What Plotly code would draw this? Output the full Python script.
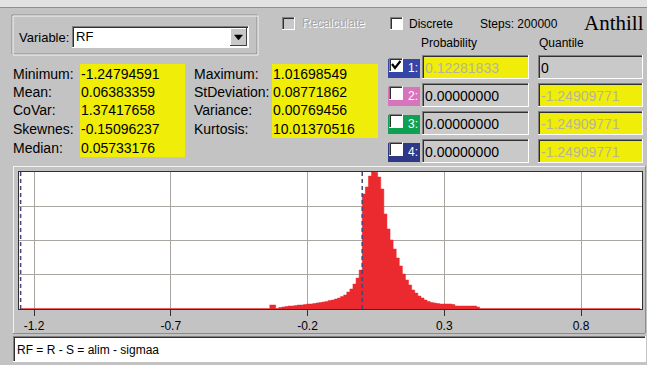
import plotly.graph_objects as go

W, H = 647, 365

# ---------------- data ----------------
variable_name = "RF"
stat_names_left = ["Minimum:", "Mean:", "CoVar:", "Skewnes:", "Median:"]
stat_values_left = ["-1.24794591", "0.06383359", "1.37417658", "-0.15096237", "0.05733176"]
stat_names_right = ["Maximum:", "StDeviation:", "Variance:", "Kurtosis:"]
stat_values_right = ["1.01698549", "0.08771862", "0.00769456", "10.01370516"]
data_min = -1.24794591
data_max = 1.01698549
steps = 200000

row_numbers = ["1:", "2:", "3:", "4:"]
row_checked = [True, False, False, False]
row_colors = ["#3646A8", "#D874BC", "#10A052", "#2E3886"]
prob_labels = ["0.12281833", "0.00000000", "0.00000000", "0.00000000"]
quantile_labels = ["0", "-1.24909771", "-1.24909771", "-1.24909771"]
quantile_values = [0.0, -1.24909771, -1.24909771, -1.24909771]

x_ticks = [-1.2, -0.7, -0.2, 0.3, 0.8]
x_tick_labels = ["-1.2", "-0.7", "-0.2", "0.3", "0.8"]

hist_start = -0.339
hist_width = 0.0113
hist_counts = [240, 240, 0, 90, 120, 150, 180, 180, 210, 240,
               240, 270, 300, 300, 330, 360, 390, 420, 450, 510,
               540, 600, 660, 750, 840, 1020, 1200, 1500, 1860, 2340,
               6900, 7320, 7980, 8220, 8200, 7920, 7200, 5700, 4800, 4140,
               3600, 3060, 2580, 2100, 1740, 1440, 1140, 960, 780, 660,
               540, 450, 390, 360, 330, 300, 300, 300, 300, 270,
               180, 180, 180, 180, 180, 180, 180, 120]
formula = "RF = R - S = alim - sigmaa"

# ---------------- styles ----------------
GRAY = "#C3C3C3"
YELLOW = "#F0EE08"
RED = "#EA2A2E"
FONT = "Liberation Sans"

shapes = []
annotations = []


def px(x):
    return x / W


def py(y):
    return 1 - y / H


def rect(x0, y0, x1, y1, fill, line=None, lw=1):
    shapes.append(dict(type="rect", xref="paper", yref="paper",
                       x0=px(x0), x1=px(x1), y0=py(y1), y1=py(y0),
                       fillcolor=fill,
                       line=dict(color=line if line else "rgba(0,0,0,0)", width=lw if line else 0)))


def hline(x0, x1, y, color, w=1):
    shapes.append(dict(type="line", xref="paper", yref="paper",
                       x0=px(x0), x1=px(x1), y0=py(y + 0.5), y1=py(y + 0.5),
                       line=dict(color=color, width=w)))


def vline(x, y0, y1, color, w=1):
    shapes.append(dict(type="line", xref="paper", yref="paper",
                       x0=px(x + 0.5), x1=px(x + 0.5), y0=py(y0), y1=py(y1),
                       line=dict(color=color, width=w)))


def sunken(x0, y0, x1, y1, fill):
    rect(x0, y0, x1, y1, fill)
    hline(x0, x1, y0, "#808080")
    vline(x0, y0, y1, "#808080")
    hline(x0 + 1, x1 - 1, y0 + 1, "#303030")
    vline(x0 + 1, y0 + 1, y1 - 1, "#303030")
    hline(x0, x1, y1 - 1, "#FFFFFF")
    vline(x1 - 1, y0, y1, "#FFFFFF")


def text(x, y, s, size=13, color="black", family=FONT, anchor="left"):
    annotations.append(dict(xref="paper", yref="paper", x=px(x), y=py(y),
                            text=s, showarrow=False, xanchor=anchor, yanchor="middle",
                            font=dict(family=family, size=size, color=color),
                            borderpad=0))


# top window strip
rect(0, 0, W, 7, "#E2E2E2")
hline(0, W, 7, "#8E8E8E")

# Variable group box (etched)
rect(12, 15, 257, 54, "rgba(0,0,0,0)", "#8A8A8A")
rect(13, 16, 258, 55, "rgba(0,0,0,0)", "#F4F4F4")
text(18, 37, "Variable:", 13)
sunken(72, 26, 249, 48, "#FFFFFF")
text(75, 36, variable_name, 13)
# dropdown button
rect(230, 28, 247, 46, "#C8C8C8")
hline(230, 247, 28, "#FFFFFF")
vline(230, 28, 46, "#FFFFFF")
hline(230, 247, 45, "#404040")
vline(246, 28, 46, "#404040")
shapes.append(dict(type="path", xref="paper", yref="paper",
                   path=f"M {px(234.5)},{py(35)} L {px(242.5)},{py(35)} L {px(238.5)},{py(40)} Z",
                   fillcolor="black", line=dict(color="black", width=0.5)))

# statistics
row_h = 18.5
rect(80, 64, 185, 157, YELLOW)
rect(272, 64, 378, 138, YELLOW)
for i, (n, v) in enumerate(zip(stat_names_left, stat_values_left)):
    yy = 73.5 + i * row_h
    text(12, yy, n, 14)
    text(80, yy, v, 14)
for i, (n, v) in enumerate(zip(stat_names_right, stat_values_right)):
    yy = 73.5 + i * row_h
    text(193, yy, n, 14)
    text(272, yy, v, 14)

# Recalculate (disabled)
sunken(282, 17, 295, 30, "#C8C8C8")
text(302, 24, "Recalculate", 12, "#FFFFFF")
text(301, 23, "Recalculate", 12, "#A6A6A6")
# Discrete
sunken(390, 17, 403, 30, "#FFFFFF")
text(408, 24, "Discrete", 12)
text(479, 24, f"Steps: {steps}", 12)
text(583, 23, "Anthill", 21, family="Liberation Serif")

text(420, 43, "Probability", 12)
text(538, 43, "Quantile", 12)

for i in range(4):
    top = 55 + i * 28
    rect(388, top + 4, 420, top + 23, row_colors[i])
    sunken(389, top + 3, 403, top + 17, "#FFFFFF")
    if row_checked[i]:
        shapes.append(dict(type="path", xref="paper", yref="paper",
                           path=(f"M {px(392)},{py(top + 9)} L {px(395)},{py(top + 13)} "
                                 f"L {px(400.5)},{py(top + 6)}"),
                           line=dict(color="black", width=2.2)))
    text(407, top + 13, row_numbers[i], 12, "#FFFFFF")
    pfill = YELLOW if i == 0 else "#C9C9C9"
    pcol = "#B6B49C" if i == 0 else "black"
    sunken(422, top, 529, top + 24, pfill)
    text(424, top + 13, prob_labels[i], 14, pcol)
    qfill = "#C9C9C9" if i == 0 else YELLOW
    qcol = "black" if i == 0 else "#B6B49C"
    sunken(538, top, 643, top + 24, qfill)
    text(540, top + 13, quantile_labels[i], 14, qcol)

# plot panel border (raised)
hline(13, 645, 166, "#F2F2F2")
vline(13, 166, 333, "#F2F2F2")
hline(13, 645, 333, "#8C8C8C")
vline(645, 166, 333, "#8C8C8C")

# formula box
sunken(13, 336, 646, 362, "#FFFFFF")
text(16, 349.5, formula, 12)

# quantile dashed lines on plot
for q in sorted(set(quantile_values)):
    shapes.append(dict(type="line", xref="x", yref="y domain", x0=q, x1=q, y0=0, y1=1,
                       line=dict(color="#44447E", width=1.5, dash="4px,3px"), layer="above"))

# histogram drawn as a filled step outline (bin edges -> counts)
edges = [hist_start + hist_width * i for i in range(len(hist_counts) + 1)]
step_y = hist_counts + [hist_counts[-1]]

fig = go.Figure()
fig.add_trace(go.Scatter(x=[data_min, data_max], y=[0, 0], mode="lines",
                         line=dict(color=RED, width=1.5), hoverinfo="skip"))
fig.add_trace(go.Scatter(x=edges, y=step_y, mode="lines", line_shape="hv",
                         line=dict(color=RED, width=0.5), fill="tozeroy",
                         fillcolor=RED, hoverinfo="skip"))

ymax = max(hist_counts)
grid = "#A9A5A1"
fig.update_layout(
    width=W, height=H, margin=dict(l=0, r=0, t=0, b=0),
    paper_bgcolor=GRAY, plot_bgcolor="#FFFFFF", showlegend=False,
    xaxis=dict(domain=[px(19), px(642)], range=[-1.255, 1.023],
               tickvals=x_ticks, ticktext=x_tick_labels,
               showgrid=True, gridcolor=grid, gridwidth=1,
               ticks="outside", ticklen=6, tickcolor="#303030",
               showline=True, linecolor="#303030", mirror=True, zeroline=False,
               tickfont=dict(family=FONT, size=12, color="black"), fixedrange=True),
    yaxis=dict(domain=[py(309), py(172)], range=[0, ymax], dtick=ymax / 4, tick0=0,
               showticklabels=False, showgrid=True, gridcolor=grid, gridwidth=1,
               showline=True, linecolor="#303030", mirror=True, zeroline=False,
               ticks="", fixedrange=True),
    shapes=shapes, annotations=annotations,
)

fig.write_html("out.html")
